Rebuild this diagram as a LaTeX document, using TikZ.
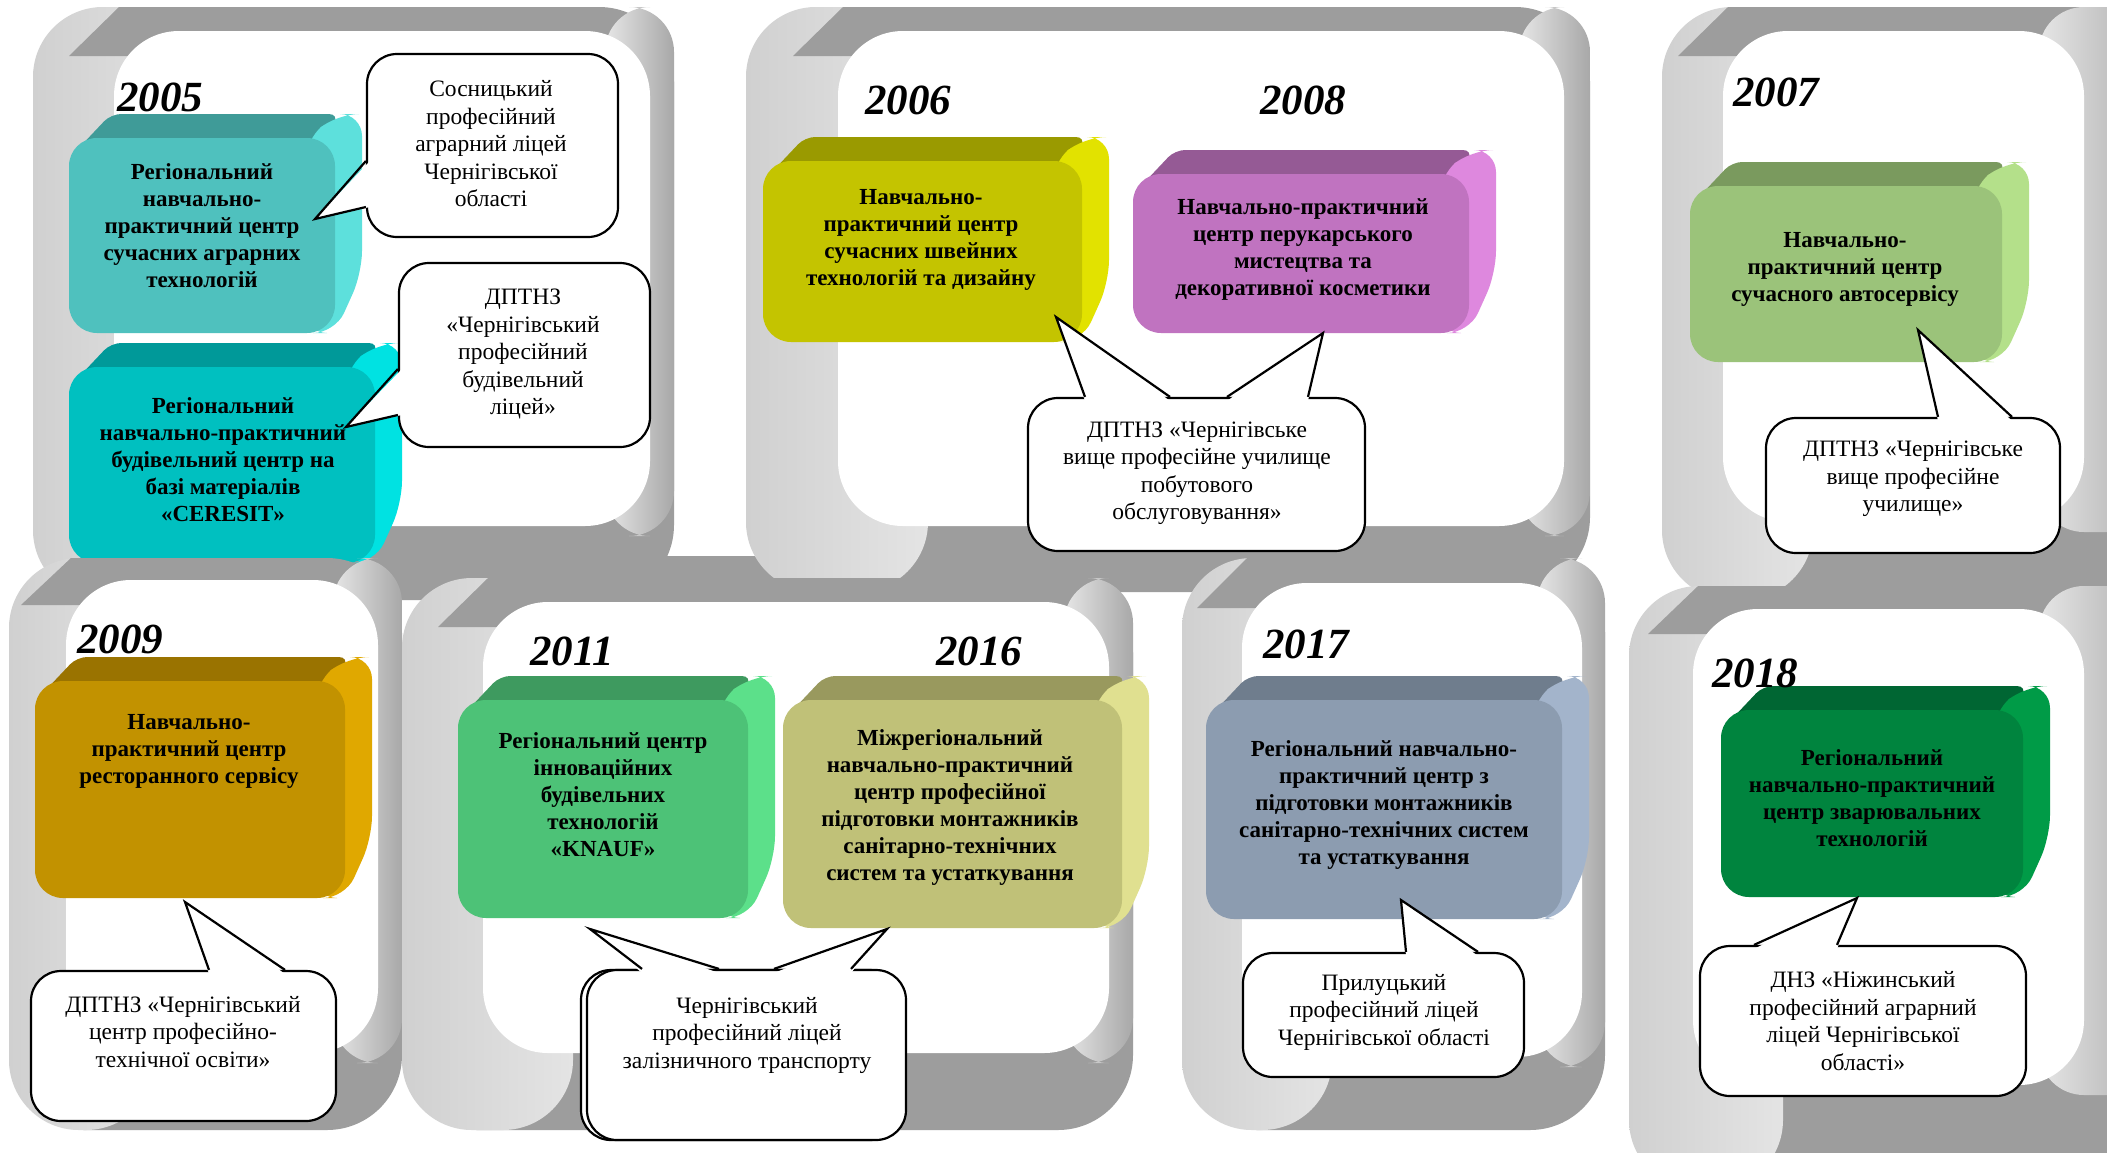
\documentclass[tikz,border=0pt]{standalone}
\usepackage{fontspec}
\setmainfont{Liberation Serif}
\usetikzlibrary{calc}
\definecolor{frdark}{HTML}{9D9D9D}
\definecolor{frlA}{HTML}{D0D0D0}
\definecolor{frlB}{HTML}{E4E4E4}
\definecolor{frrA}{HTML}{E6E6E6}
\definecolor{frrB}{HTML}{A8A8A8}
\definecolor{tealF}{HTML}{4FC1BE}\definecolor{tealT}{HTML}{3F9B98}\definecolor{tealS}{HTML}{5DE0DC}
\definecolor{cyanF}{HTML}{00C0C0}\definecolor{cyanT}{HTML}{009999}\definecolor{cyanS}{HTML}{00E2E2}
\definecolor{oliveF}{HTML}{C4C400}\definecolor{oliveT}{HTML}{9A9A00}\definecolor{oliveS}{HTML}{E2E200}
\definecolor{purpF}{HTML}{C073C0}\definecolor{purpT}{HTML}{955A95}\definecolor{purpS}{HTML}{DE88DE}
\definecolor{lgrnF}{HTML}{9BC37A}\definecolor{lgrnT}{HTML}{7A9A5E}\definecolor{lgrnS}{HTML}{B4E08A}
\definecolor{goldF}{HTML}{C29200}\definecolor{goldT}{HTML}{9A7300}\definecolor{goldS}{HTML}{E0A800}
\definecolor{grnF}{HTML}{4DC277}\definecolor{grnT}{HTML}{3E9A5F}\definecolor{grnS}{HTML}{5CE08A}
\definecolor{khakF}{HTML}{C0C178}\definecolor{khakT}{HTML}{99995E}\definecolor{khakS}{HTML}{E0E090}
\definecolor{blueF}{HTML}{8C9CB0}\definecolor{blueT}{HTML}{6F7D8D}\definecolor{blueS}{HTML}{A3B4CB}
\definecolor{dgrnF}{HTML}{00843E}\definecolor{dgrnT}{HTML}{006633}\definecolor{dgrnS}{HTML}{009B47}
\tikzset{
  cubefront/.style={rectangle, rounded corners=28, inner sep=0pt, outer sep=0pt},
  boxtext/.style={align=center, font=\fontsize{23}{27}\selectfont\bfseries, inner sep=0pt},
  calloutbox/.style={draw=black, line width=2.2pt, fill=white, rounded corners=30, rectangle, inner sep=0pt},
  callouttext/.style={align=center, font=\fontsize{23.5}{27.5}\selectfont, inner sep=0pt},
  yearlabel/.style={font=\fontsize{43}{43}\selectfont\bfseries\itshape, inner sep=0pt},
  pointer/.style={draw=black, line width=2.2pt, line join=miter}
}
% panel frame: outer x1 y1 x2 y2, inner x1 y1 x2 y2
\newcommand\panelframe[8]{%
  \fill[frdark, rounded corners=75] (#1,#2) rectangle (#3,#4);
  \shade[left color=frlA, right color=frlB, rounded corners=70] (#1,#2) rectangle ({#5+90},#4);
  \fill[frdark] ({#5-45},{#6+25}) -- ({#5+5},#2) -- ({#7-60},#2) -- ({#7-60},{#6+25}) -- cycle;
  \shade[left color=frrA, right color=frrB, rounded corners=45] ({#7-45},#2) rectangle (#3,{#8+10});
  \fill[white, rounded corners=65] (#5,#6) rectangle (#7,#8);
}
% 3D box: name, x1, y1, x2, y2, colour prefix
\newcommand\cubebox[6]{%
  \fill[#6T, rounded corners=10] ({#2+8},{#3+12}) -- ({#2+42},{#3-24}) -- ({#4+4},{#3-24}) -- ({#4-12},{#3+8}) -- cycle;
  \fill[#6S, rounded corners=22] ({#4-30},{#3+2}) -- ({#4+2},{#3-24}) -- ({#4+27},{#3-24}) -- ({#4+27},{#5-60}) -- ({#4},{#5}) -- ({#4-30},{#5}) -- cycle;
  \node[cubefront, fill=#6F, minimum width={(#4-#2)*1pt}, minimum height={(#5-#3)*1pt}] (#1) at ({(#2+#4)/2},{(#3+#5)/2}) {};
}
% pointer on the left edge of a callout: node, tip, y a, y b
\newcommand\leftpointer[4]{%
  \fill[white] ($(#1.west |- 0,#3)+(4,0)$) -- (#2) -- ($(#1.west |- 0,#4)+(4,0)$) -- cycle;
  \draw[pointer] (#1.west |- 0,#3) -- (#2) -- (#1.west |- 0,#4);
}
% pointer on the top edge of a callout: node, tip, x a, x b
\newcommand\toppointer[4]{%
  \fill[white] ($(#3,0 |- #1.north)+(0,4)$) -- (#2) -- ($(#4,0 |- #1.north)+(0,4)$) -- cycle;
  \draw[pointer] (#3,0 |- #1.north) -- (#2) -- (#4,0 |- #1.north);
}
\begin{document}
\begin{tikzpicture}[x=1pt,y=-1pt]
\useasboundingbox (0,0) rectangle (2107,1152);
\clip (0,0) rectangle (2107,1152);
\fill[white] (0,0) rectangle (2107,1152);
% band between the rows
\fill[frdark] (560,556) rectangle (1300,592);
% ===== top row frames =====
\panelframe{33}{7}{674}{600}{114}{31}{650}{526}
\panelframe{746}{7}{1590}{592}{838}{31}{1564}{526}
\panelframe{1662}{7}{2160}{600}{1723}{31}{2084}{522}
% ===== top row boxes =====
\cubebox{b05a}{69}{138}{335}{333}{teal}
\node[boxtext] (b05at) at (202,226) {Регіональний\\навчально-\\практичний центр\\сучасних аграрних\\технологій};
\cubebox{b05b}{69}{367}{375}{563}{cyan}
\node[boxtext] (b05bt) at (223,460) {Регіональний\\навчально-практичний\\будівельний центр на\\базі матеріалів\\«CERESIT»};
\cubebox{b06}{763}{161}{1082}{342}{olive}
\node[boxtext] (b06t) at (921,240) {Навчально-\\практичний центр\\сучасних швейних\\технологій та дизайну};
\cubebox{b08}{1133}{174}{1469}{333}{purp}
\node[boxtext] (b08t) at (1303,250) {Навчально-практичний\\центр перукарського\\мистецтва та\\декоративної косметики};
\cubebox{b07}{1690}{186}{2002}{362}{lgrn}
\node[boxtext] (b07t) at (1845,269) {Навчально-\\практичний центр\\сучасного автосервісу};
% ===== top row callouts =====
\node[calloutbox, minimum width=251pt, minimum height=183pt] (ca) at (492.5,145.5) {};
\coordinate (ca-tip) at (315,219);
\leftpointer{ca}{ca-tip}{161}{207}
\node[callouttext] (cat) at (491,144) {Сосницький\\професійний\\аграрний ліцей\\Чернігівської\\області};
\node[calloutbox, minimum width=251pt, minimum height=184pt] (cb) at (524.5,355) {};
\coordinate (cb-tip) at (346,427);
\leftpointer{cb}{cb-tip}{369}{415}
\node[callouttext] (cbt) at (523,354) {ДПТНЗ\\«Чернігівський\\професійний\\будівельний\\ліцей»};
\node[calloutbox, minimum width=337pt, minimum height=153pt] (cc) at (1196.5,474.5) {};
\coordinate (cc-tip1) at (1056,317);
\coordinate (cc-tip2) at (1323,333);
\toppointer{cc}{cc-tip1}{1085}{1170}
\toppointer{cc}{cc-tip2}{1227}{1308}
\node[callouttext] (cct) at (1197,473) {ДПТНЗ «Чернігівське\\вище професійне училище\\побутового\\обслуговування»};
\node[calloutbox, minimum width=294pt, minimum height=135pt] (cd) at (1913,485.5) {};
\coordinate (cd-tip) at (1918,330);
\toppointer{cd}{cd-tip}{1938}{2012}
\node[callouttext] (cdt) at (1913,479) {ДПТНЗ «Чернігівське\\вище професійне\\училище»};
% years top row
\node[yearlabel] (y2005) at (160,97) {2005};
\node[yearlabel] (y2006) at (908,100) {2006};
\node[yearlabel] (y2008) at (1303,100) {2008};
\node[yearlabel] (y2007) at (1776,92) {2007};
% ===== bottom row frames =====
\panelframe{9}{558}{402}{1130}{66}{580}{378}{1053}
\panelframe{402}{578}{1133}{1130}{483}{602}{1109}{1053}
\panelframe{1182}{558}{1605}{1130}{1242}{583}{1582}{1057}
\panelframe{1629}{586}{2160}{1190}{1693}{609}{2084}{1085}
% ===== bottom row boxes =====
\cubebox{b09}{35}{681}{345}{898}{gold}
\node[boxtext] (b09t) at (189,751) {Навчально-\\практичний центр\\ресторанного сервісу};
\cubebox{b11}{458}{700}{748}{918}{grn}
\node[boxtext] (b11t) at (603,795) {Регіональний центр\\інноваційних\\будівельних\\технологій\\«KNAUF»};
\cubebox{b16}{783}{700}{1122}{928}{khak}
\node[boxtext] (b16t) at (950,807) {Міжрегіональний\\навчально-практичний\\центр професійної\\підготовки монтажників\\санітарно-технічних\\систем та устаткування};
\cubebox{b17}{1206}{700}{1562}{919}{blue}
\node[boxtext] (b17t) at (1384,805) {Регіональний навчально-\\практичний центр з\\підготовки монтажників\\санітарно-технічних систем\\та устаткування};
\cubebox{b18}{1721}{710}{2023}{897}{dgrn}
\node[boxtext] (b18t) at (1872,798) {Регіональний\\навчально-практичний\\центр зварювальних\\технологій};
% ===== bottom row callouts =====
\node[calloutbox, minimum width=305pt, minimum height=150pt] (ce) at (183.5,1046) {};
\coordinate (ce-tip) at (185,902);
\toppointer{ce}{ce-tip}{209}{285}
\node[callouttext] (cet) at (183,1032) {ДПТНЗ «Чернігівський\\центр професійно-\\технічної освіти»};
\node[calloutbox, minimum width=319pt, minimum height=170pt] (cfs) at (740.5,1055) {};
\node[calloutbox, minimum width=319pt, minimum height=170pt] (cf) at (746.5,1055) {};
\coordinate (cf-tip1) at (590,929);
\coordinate (cf-tip2) at (887,929);
\toppointer{cf}{cf-tip1}{642}{719}
\toppointer{cf}{cf-tip2}{774}{851}
\node[callouttext] (cft) at (747,1035) {Чернігівський\\професійний ліцей\\залізничного транспорту};
\node[calloutbox, minimum width=281pt, minimum height=124pt] (cg) at (1383.5,1015) {};
\coordinate (cg-tip) at (1401,900);
\toppointer{cg}{cg-tip}{1406}{1478}
\node[callouttext] (cgt) at (1384,1012) {Прилуцький\\професійний ліцей\\Чернігівської області};
\node[calloutbox, minimum width=326pt, minimum height=150pt] (ch) at (1863,1021) {};
\coordinate (ch-tip) at (1857,898);
\toppointer{ch}{ch-tip}{1754}{1837}
\node[callouttext] (cht) at (1863,1021) {ДНЗ «Ніжинський\\професійний аграрний\\ліцей Чернігівської\\області»};
% years bottom row
\node[yearlabel] (y2009) at (120,639) {2009};
\node[yearlabel] (y2011) at (572,651) {2011};
\node[yearlabel] (y2016) at (979,651) {2016};
\node[yearlabel] (y2017) at (1306,644) {2017};
\node[yearlabel] (y2018) at (1755,673) {2018};
\end{tikzpicture}
\end{document}
